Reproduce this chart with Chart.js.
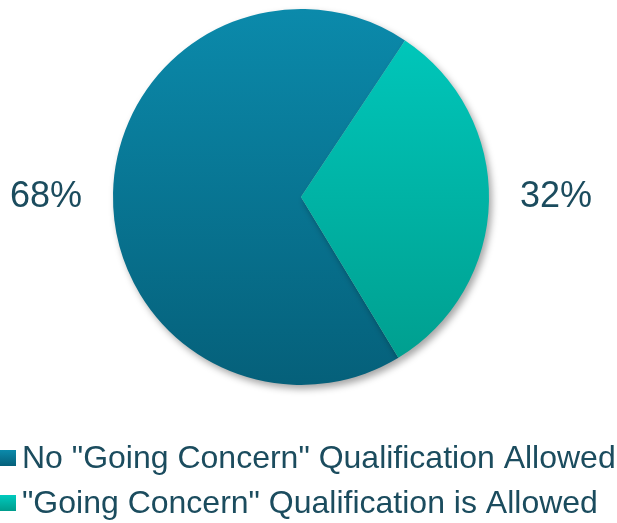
<!DOCTYPE html>
<html lang="en">
  <head>
    <meta charset="UTF-8" />
    <title>Going Concern</title>
    <style>
      html, body { margin: 0; padding: 0; background: #fff; }
      #wrap { width: 617px; height: 523px; }
    </style>
  </head>
  <body>
    <div id="wrap"><canvas id="myChart" width="617" height="523"></canvas></div>
  </body>
</html>
<script src="https://cdn.jsdelivr.net/npm/chart.js"></script>

<script>
  const labels = ['No "Going Concern" Qualification Allowed', '"Going Concern" Qualification is Allowed'];
  const values = [68, 32];
  const pctLabels = ["68%", "32%"];
  const topColors = ["#0b8aab", "#00cabe"];
  const bottomColors = ["#05607a", "#009c8c"];
  const textColor = "#1b4c5e";

  function grad(ctx, area, i) {
    const g = ctx.createLinearGradient(0, area.top, 0, area.bottom);
    g.addColorStop(0, topColors[i]);
    g.addColorStop(1, bottomColors[i]);
    return g;
  }

  // shadow under the pie
  const shadowPlugin = {
    id: "pieShadow",
    beforeDatasetsDraw(chart) {
      const c = chart.ctx;
      c.save();
      c.shadowColor = "rgba(0,0,0,0.35)";
      c.shadowBlur = 7;
      c.shadowOffsetX = 3;
      c.shadowOffsetY = 4;
    },
    afterDatasetsDraw(chart) {
      chart.ctx.restore();
    },
  };

  // percent labels beside the pie and the legend below it
  const textPlugin = {
    id: "texts",
    afterDraw(chart) {
      const c = chart.ctx;
      const meta = chart.getDatasetMeta(0);
      c.save();
      c.fillStyle = textColor;
      c.font = '36px "Liberation Sans", Arial, sans-serif';
      c.textBaseline = "alphabetic";
      meta.data.forEach((arc, i) => {
        const mid = (arc.startAngle + arc.endAngle) / 2;
        const left = Math.cos(mid) < 0;
        const gap = 31;
        if (left) {
          c.textAlign = "right";
          c.fillText(pctLabels[i], arc.x - arc.outerRadius - gap, arc.y + 10);
        } else {
          c.textAlign = "left";
          c.fillText(pctLabels[i], arc.x + arc.outerRadius + gap, arc.y + 10);
        }
      });

      c.textAlign = "left";
      c.font = '32px "Liberation Sans", Arial, sans-serif';
      const rows = [468, 513];
      labels.forEach((t, i) => {
        const y = rows[i];
        const g = c.createLinearGradient(0, y - 18, 0, y - 2);
        g.addColorStop(0, topColors[i]);
        g.addColorStop(1, bottomColors[i]);
        c.fillStyle = g;
        c.fillRect(0, y - 18, 16, 16);
        c.fillStyle = textColor;
        c.fillText(t, 22, y);
      });
      c.restore();
    },
  };

  const ctx = document.getElementById("myChart").getContext("2d");
  const myChart = new Chart(ctx, {
    type: "pie",
    data: {
      labels: labels,
      datasets: [
        {
          data: values,
          backgroundColor: (context) => {
            const area = context.chart.chartArea;
            if (!area) return topColors[context.dataIndex];
            return grad(context.chart.ctx, area, context.dataIndex);
          },
          borderWidth: 0,
        },
      ],
    },
    options: {
      responsive: false,
      animation: false,
      rotation: 148.8,
      layout: { padding: { top: 9, bottom: 138, left: 0, right: 15 } },
      plugins: {
        legend: { display: false },
        tooltip: { enabled: false },
      },
    },
    plugins: [shadowPlugin, textPlugin],
  });
</script>
